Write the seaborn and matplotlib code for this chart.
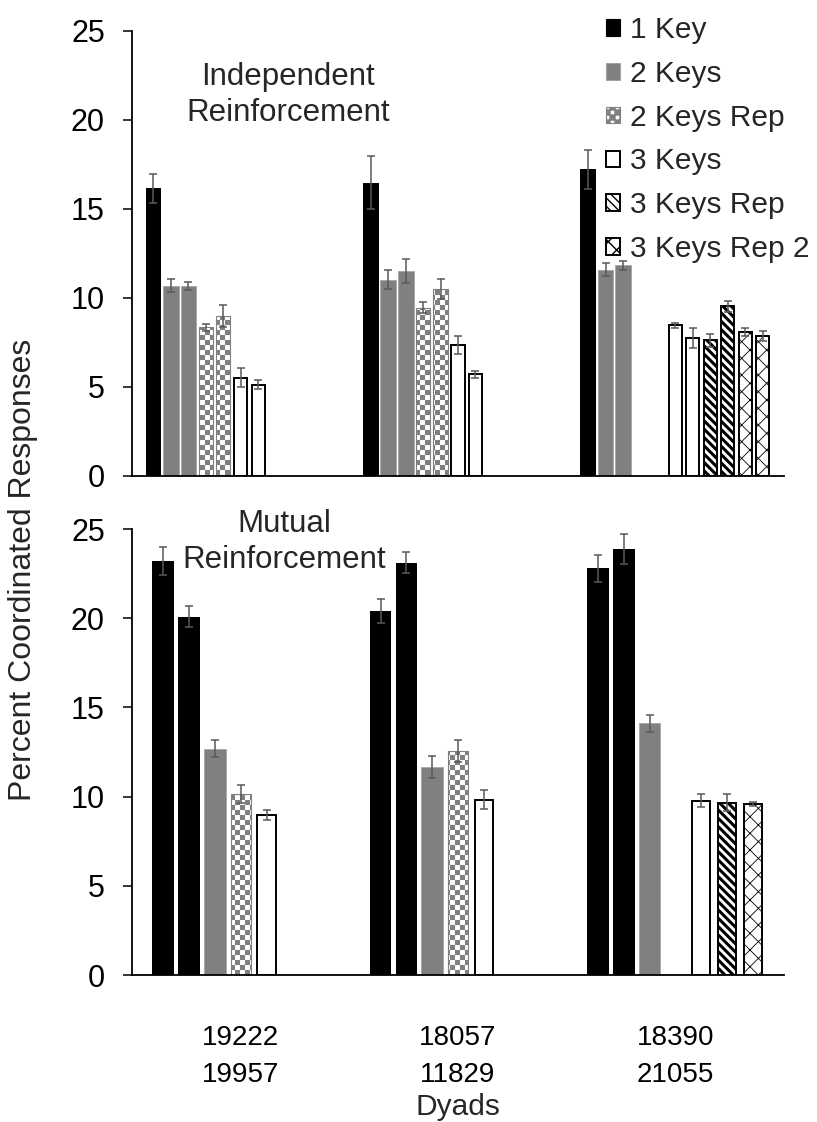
import warnings

import numpy as np
import pandas as pd
import matplotlib
matplotlib.use("Agg")
import matplotlib.pyplot as plt
import matplotlib.hatch as mhatch
import matplotlib.patches as mpatches
from matplotlib.path import Path
import seaborn as sns

warnings.filterwarnings("ignore")

# ---------------------------------------------------------------- data
dyads = ["19222\n19957", "18057\n11829", "18390\n21055"]
conditions = ["1 Key", "2 Keys", "2 Keys Rep", "3 Keys", "3 Keys Rep", "3 Keys Rep 2"]

# Independent reinforcement: sessions in the order they were run
ind_slots = ["1 Key", "2 Keys", "2 Keys", "2 Keys Rep", "2 Keys Rep",
             "3 Keys", "3 Keys", "3 Keys Rep", "3 Keys Rep",
             "3 Keys Rep 2", "3 Keys Rep 2"]
ind_mean_19222 = [16.15, 10.68, 10.68, 8.35, 8.97, 5.52, 5.11, None, None, None, None]
ind_sem_19222 = [0.80, 0.35, 0.22, 0.20, 0.60, 0.55, 0.25, None, None, None, None]
ind_mean_18057 = [16.46, 11.02, 11.52, 9.45, 10.50, 7.34, 5.70, None, None, None, None]
ind_sem_18057 = [1.50, 0.53, 0.66, 0.30, 0.58, 0.52, 0.18, None, None, None, None]
ind_mean_18390 = [17.21, 11.58, 11.82, None, None, 8.46, 7.72, 7.61, 9.53, 8.07, 7.85]
ind_sem_18390 = [1.10, 0.35, 0.27, None, None, 0.14, 0.56, 0.35, 0.30, 0.22, 0.29]

# Mutual reinforcement
mut_slots = ["1 Key", "1 Key", "2 Keys", "2 Keys Rep", "3 Keys", "3 Keys Rep", "3 Keys Rep 2"]
mut_mean_19222 = [23.20, 20.09, 12.69, 10.14, 8.97, None, None]
mut_sem_19222 = [0.78, 0.58, 0.48, 0.49, 0.28, None, None]
mut_mean_18057 = [20.41, 23.12, 11.66, 12.56, 9.82, None, None]
mut_sem_18057 = [0.67, 0.60, 0.60, 0.60, 0.53, None, None]
mut_mean_18390 = [22.79, 23.87, 14.10, None, 9.77, 9.67, 9.58]
mut_sem_18390 = [0.77, 0.83, 0.47, None, 0.37, 0.50, 0.13]


# ------------------------------------------------- checkerboard hatch
class CheckerHatch(mhatch.HatchPatternBase):
    """Filled squares laid out as a checkerboard, selected with 'c'."""
    cells = 20

    def __init__(self, hatch, density):
        self.num_cells = self.cells if "c" in hatch else 0
        self.num_vertices = (self.num_cells ** 2 // 2) * 5

    def set_vertices_and_codes(self, vertices, codes):
        n = self.num_cells
        step = 1.0 / n
        sq = np.array([[0, 0], [1, 0], [1, 1], [0, 1], [0, 0]], float) * step
        parts = [sq + [i * step, j * step]
                 for i in range(n) for j in range(n) if (i + j) % 2 == 0]
        vertices[:] = np.concatenate(parts)
        codes[:] = np.tile([Path.MOVETO, Path.LINETO, Path.LINETO,
                            Path.LINETO, Path.CLOSEPOLY], len(parts))


mhatch._hatch_types.append(CheckerHatch)

# ------------------------------------------------------------- styling
FS = 21.5          # legend, axis titles
TITLE_FS = 22.5    # panel captions
TICK_FS = 22       # y tick labels
XTICK_FS = 20      # dyad labels
sns.set_style("ticks")
plt.rcParams["font.family"] = ["Liberation Sans", "DejaVu Sans"]

styles = {
    "1 Key":        dict(fc="black",   ec="black",   hatch=None,       lw=0.0, hlw=None, shrink=1.0),
    "2 Keys":       dict(fc="#808080", ec="#a6a6a6", hatch=None,       lw=0.6, hlw=None, shrink=1.0),
    "2 Keys Rep":   dict(fc="white",   ec="#808080", hatch="c",        lw=0.8, hlw=0.05, shrink=0.92),
    "3 Keys":       dict(fc="white",   ec="black",   hatch=None,       lw=1.4, hlw=None, shrink=0.84),
    "3 Keys Rep":   dict(fc="white",   ec="black",   hatch="\\\\\\\\", lw=1.4, hlw=2.2, shrink=0.84),
    "3 Keys Rep 2": dict(fc="white",   ec="black",   hatch="xx",       lw=1.4, hlw=0.6, shrink=0.84),
}
ERR_COLOR = "#595959"


def long_frame(slots, means, sems):
    rows = []
    for dyad, m_list, s_list in zip(dyads, means, sems):
        for k, (cond, m, s) in enumerate(zip(slots, m_list, s_list)):
            if m is None:
                continue
            rows.append({"dyad": dyad, "slot": f"{k}|{cond}", "condition": cond,
                         "pct": m, "sem": s})
    return pd.DataFrame(rows)


def style_patch(p, st):
    p.set_facecolor(st["fc"])
    p.set_edgecolor(st["ec"])
    p.set_linewidth(st["lw"])
    if st["hatch"]:
        p.set_hatch(st["hatch"])
        if st["hlw"] is not None and hasattr(p, "set_hatch_linewidth"):
            p.set_hatch_linewidth(st["hlw"])


def draw_panel(ax, df, slots, width, gap):
    hue_order = [f"{k}|{c}" for k, c in enumerate(slots)]
    sns.barplot(data=df, x="dyad", y="pct", hue="slot", order=dyads,
                hue_order=hue_order, dodge=True, width=width, gap=gap,
                errorbar=None, legend=False, ax=ax)
    levels = [h for h in hue_order if h in set(df["slot"])]
    for level, cont in zip(levels, ax.containers):
        cond = level.split("|", 1)[1]
        st = styles[cond]
        sub = df[df["slot"] == level].set_index("dyad")
        for bar in cont.patches:
            cx = bar.get_x() + bar.get_width() / 2
            w = bar.get_width() * st["shrink"]
            bar.set_width(w)
            bar.set_x(cx - w / 2)
            style_patch(bar, st)
            dyad = dyads[int(round(cx))]
            ax.errorbar(cx, bar.get_height(), yerr=sub.loc[dyad, "sem"],
                        fmt="none", ecolor=ERR_COLOR, elinewidth=1.1,
                        capsize=2.9, capthick=1.1, zorder=5)
    ax.set_ylim(0, 25)
    ax.set_yticks(np.arange(0, 26, 5))
    ax.set_xlim(-0.5, 2.5)
    ax.set_xlabel("")
    ax.set_ylabel("")
    sns.despine(ax=ax)
    for side in ("left", "bottom"):
        ax.spines[side].set_linewidth(1.3)
        ax.spines[side].set_color("black")
    ax.tick_params(axis="y", direction="out", length=6.5, width=1.1,
                   labelsize=TICK_FS, pad=13, colors="black")
    ax.tick_params(axis="x", length=0, labelsize=XTICK_FS, colors="black")


fig = plt.figure(figsize=(8.17, 11.22), dpi=100)
ax_top = fig.add_axes([0.1616, 0.5758, 0.798, 0.3969])
ax_bot = fig.add_axes([0.1616, 0.1310, 0.798, 0.3975])

ind_df = long_frame(ind_slots,
                    [ind_mean_19222, ind_mean_18057, ind_mean_18390],
                    [ind_sem_19222, ind_sem_18057, ind_sem_18390])
mut_df = long_frame(mut_slots,
                    [mut_mean_19222, mut_mean_18057, mut_mean_18390],
                    [mut_sem_19222, mut_sem_18057, mut_sem_18390])

draw_panel(ax_top, ind_df, ind_slots, width=0.883, gap=0.1)
draw_panel(ax_bot, mut_df, mut_slots, width=0.832, gap=0.16)
ax_top.set_xticklabels([])
ax_bot.tick_params(axis="x", pad=36)
for lab in ax_bot.get_xticklabels():
    lab.set_linespacing(1.57)

# panel captions
fig.text(288 / 817, 1 - 95 / 1122, "Independent\nReinforcement", ha="center",
         va="center", fontsize=TITLE_FS, linespacing=1.3)
fig.text(284 / 817, 1 - 542 / 1122, "Mutual\nReinforcement", ha="center",
         va="center", fontsize=TITLE_FS, linespacing=1.3)

# shared axis titles
fig.text(23 / 817, 1 - 570 / 1122, "Percent Coordinated Responses", rotation=90,
         ha="center", va="center", fontsize=23)
fig.text(458 / 817, 1 - 1107 / 1122, "Dyads", ha="center", va="center", fontsize=FS)

# legend
handles = []
for cond in conditions:
    st = styles[cond]
    h = mpatches.Patch(facecolor=st["fc"], edgecolor=st["ec"],
                       linewidth=max(st["lw"], 0.8), hatch=st["hatch"])
    if st["hatch"] and st["hlw"] is not None and hasattr(h, "set_hatch_linewidth"):
        h.set_hatch_linewidth(st["hlw"])
    handles.append(h)
fig.legend(handles, conditions, loc="upper left",
           bbox_to_anchor=(606 / 817, 1 - 16 / 1122), frameon=False,
           fontsize=FS, handlelength=0.48, handleheight=0.48,
           handletextpad=0.33, labelspacing=0.53, borderpad=0,
           borderaxespad=0)

fig.savefig("out.png", dpi=100)
